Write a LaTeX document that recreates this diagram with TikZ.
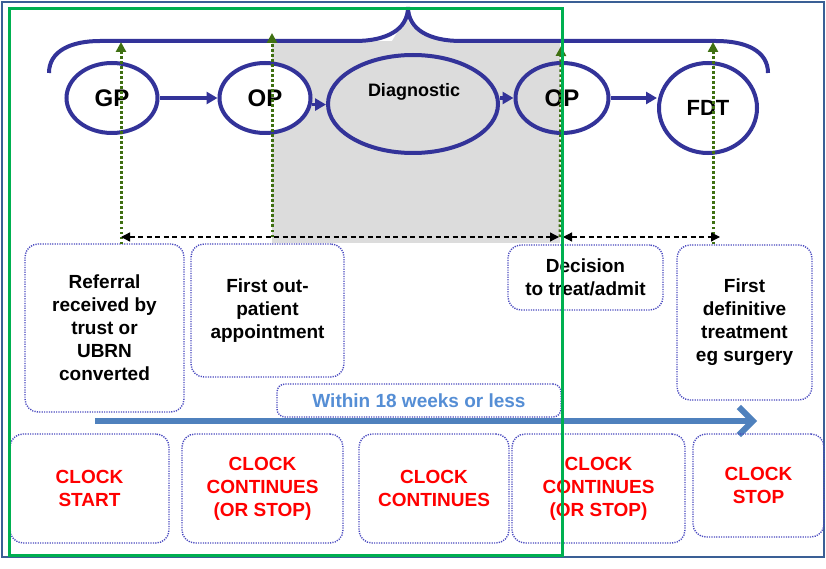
\documentclass[tikz,border=0pt]{standalone}
\usepackage{fontspec}
\setmainfont{Liberation Sans}
\usetikzlibrary{shapes.geometric,arrows.meta}
\definecolor{navy}{HTML}{333399}
\definecolor{frameblue}{HTML}{3A5F95}
\definecolor{dotgreen}{HTML}{3F7012}
\definecolor{boxblue}{HTML}{4A4AC0}
\definecolor{lightblue}{HTML}{558ED5}
\definecolor{arrowblue}{HTML}{4F81BD}
\definecolor{greenframe}{HTML}{00B050}
\definecolor{grayfill}{HTML}{DCDCDC}
\begin{document}
\begin{tikzpicture}[x=1pt,y=-1pt,
  ell/.style={ellipse, draw=navy, line width=4pt, fill=white, inner sep=0pt, font=\bfseries\fontsize{24}{28}\selectfont},
  flow/.style={navy, line width=3.5pt, -{Triangle[length=11pt,width=12pt]}},
  uparrow/.style={dotgreen, line width=3pt, dash pattern=on 2.5pt off 2.5pt, -{Triangle[length=10pt,width=10pt]}},
  span/.style={black, line width=1.3pt, dash pattern=on 5pt off 3.5pt, {Triangle[length=9pt,width=9pt]}-{Triangle[length=9pt,width=9pt]}},
  infobox/.style={draw=boxblue, line width=1.4pt, dash pattern=on 1.2pt off 1.2pt, rounded corners=13pt, align=center, inner sep=0pt, font=\bfseries\fontsize{19}{23}\selectfont},
  clockbox/.style={infobox, text=red}
]
\useasboundingbox (0,0) rectangle (826,569);
\fill[white] (0,0) rectangle (826,569);
\draw[frameblue, line width=1.4pt] (2,2) rectangle (824,557);

% gray diagnostic region
\fill[grayfill] (272,41) rectangle (560,243);
\fill[grayfill] (392,41) -- (407,16) .. controls (408,30) and (430,41) .. (461,41) -- cycle;

% brace
\draw[navy, line width=4pt] (49,73) .. controls (49,51) and (71,41) .. (100,41) -- (355,41)
  .. controls (386,41) and (408,30) .. (408,7)
  .. controls (408,30) and (430,41) .. (461,41) -- (716,41)
  .. controls (746,41) and (768,51) .. (768,73);

% ellipses
\node[ell, minimum width=91pt, minimum height=70pt] (gp) at (112,98) {GP};
\node[ell, minimum width=91pt, minimum height=70pt] (op1) at (265,98) {OP};
\node[ell, fill=grayfill, minimum width=170pt, minimum height=98pt] (diag) at (413,104) {};
\node[font=\bfseries\fontsize{18}{22}\selectfont] (diagt) at (414,92) {Diagnostic};
\node[ell, fill=none, minimum width=93pt, minimum height=70pt] (op2) at (562,98) {OP};
\node[ell, minimum width=98pt, minimum height=90pt, font=\bfseries\fontsize{22}{26}\selectfont] (fdt) at (708,108) {FDT};

\draw[flow] (gp.east) -- (op1.west);
\draw[flow] (op1.-8) -- (op1.-8 -| diag.west);
\draw[flow] (op2.west -| diag.east) -- (op2.west);
\draw[flow] (op2.east) -- (op2.east -| fdt.west);

% info boxes
\node[infobox, minimum width=159pt, minimum height=168pt] (ref) at (104.5,328) {Referral\\received by\\trust or\\UBRN\\converted};
\node[infobox, minimum width=153pt, minimum height=133pt] (fop) at (267.5,310.5) {First out-\\patient\\appointment};
\node[infobox, minimum width=155pt, minimum height=65pt] (dec) at (585.5,277.5) {Decision\\to treat/admit};
\node[infobox, minimum width=135pt, minimum height=155pt] (fdtb) at (744.5,322.5) {First\\definitive\\treatment\\eg surgery};
\node[infobox, text=lightblue, rounded corners=8pt, minimum width=284pt, minimum height=33pt] (within) at (419,400.5) {Within 18 weeks or less};

% coordinates for timeline connectors
\coordinate (a1) at (121,237);
\coordinate (a2) at (272,237);
\coordinate (a3) at (560,237);
\coordinate (a4) at (720,237);
\coordinate (b3) at (563,237);
\coordinate (t1) at (121,42);
\coordinate (t2) at (272,33);
\coordinate (t3) at (561,46);
\coordinate (t4) at (713,42);
\coordinate (s1) at (121,244);
\coordinate (s4) at (713,244);

\draw[uparrow] (s1) -- (t1);
\draw[uparrow] (a2) -- (t2);
\draw[uparrow] (a3) -- (t3);
\draw[uparrow] (s4) -- (t4);

\draw[span] (a1) -- ([xshift=-1pt]a3);
\draw[span] (b3) -- (a4);

% big arrow
\coordinate (w0) at (95,421);
\coordinate (w1) at (757,421);
\draw[arrowblue, line width=6pt, -{Straight Barb[length=14pt,width=28pt,line width=6pt]}] (w0) -- (w1);

% clock boxes
\node[clockbox, minimum width=159pt, minimum height=109pt] (c1) at (89.5,488.5) {CLOCK\\START};
\node[clockbox, minimum width=161pt, minimum height=109pt] (c2) at (262.5,488.5) {CLOCK\\CONTINUES\\(OR STOP)};
\node[clockbox, minimum width=150pt, minimum height=109pt] (c3) at (434,488.5) {CLOCK\\CONTINUES};
\node[clockbox, minimum width=173pt, minimum height=109pt] (c4) at (598.5,488.5) {CLOCK\\CONTINUES\\(OR STOP)};
\node[clockbox, minimum width=131pt, minimum height=103pt] (c5) at (758.5,485.5) {CLOCK\\STOP};

% green frame on top
\draw[greenframe, line width=3pt] (9,9) rectangle (562,555);
\end{tikzpicture}
\end{document}
